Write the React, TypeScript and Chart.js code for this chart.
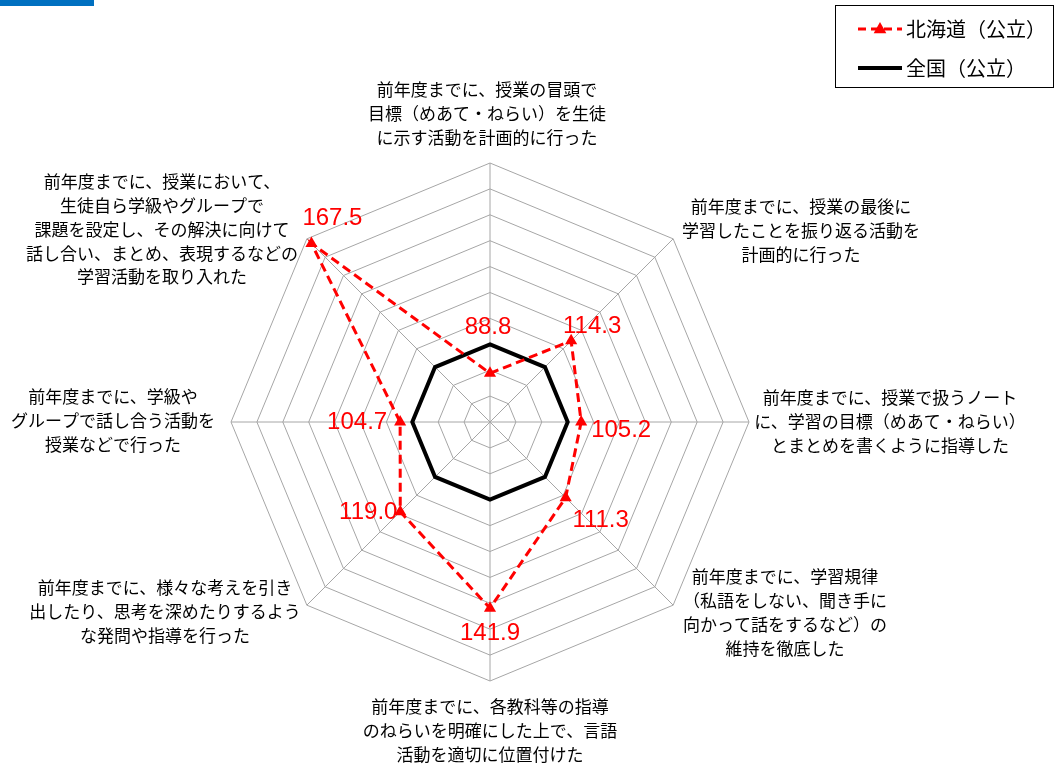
import React, { useEffect, useRef } from "react";
import { Chart, registerables } from "chart.js";

Chart.register(...registerables);

// ---------- data ----------
const categories: string[][] = [
  ["前年度までに、授業の冒頭で", "目標（めあて・ねらい）を生徒", "に示す活動を計画的に行った"],
  ["前年度までに、授業の最後に", "学習したことを振り返る活動を", "計画的に行った"],
  ["前年度までに、授業で扱うノート", "に、学習の目標（めあて・ねらい）", "とまとめを書くように指導した"],
  ["前年度までに、学習規律", "（私語をしない、聞き手に", "向かって話をするなど）の", "維持を徹底した"],
  ["前年度までに、各教科等の指導", "のねらいを明確にした上で、言語", "活動を適切に位置付けた"],
  ["前年度までに、様々な考えを引き", "出したり、思考を深めたりするよう", "な発問や指導を行った"],
  ["前年度までに、学級や", "グループで話し合う活動を", "授業などで行った"],
  [
    "前年度までに、授業において、",
    "生徒自ら学級やグループで",
    "課題を設定し、その解決に向けて",
    "話し合い、まとめ、表現するなどの",
    "学習活動を取り入れた",
  ],
];
const hokkaidoValues: number[] = [88.8, 114.3, 105.2, 111.3, 141.9, 119.0, 104.7, 167.5];
const nationalValues: number[] = [100, 100, 100, 100, 100, 100, 100, 100];
const seriesNames: string[] = ["北海道（公立）", "全国（公立）"];
const scaleMin = 70;
const scaleMax = 170;
const scaleStep = 10;

// ---------- layout (text placement relative to the radar centre / points) ----------
const LABEL_ANCHORS: [number, number][] = [
  [-3, -332],
  [311, -215],
  [400, -24],
  [295, 155],
  [0, 285],
  [-325, 166],
  [-377, -25],
  [-328, -240],
];
const LABEL_LINE_H = 23.7;
const VALUE_OFFSETS: [number, number][] = [
  [-2, -46],
  [21, -14],
  [40, 8],
  [35, 23],
  [0, 25],
  [-32, 1],
  [-43, 0],
  [21, -25],
];

const RED = "#FF0000";
const JP_FONT = '"Noto Sans CJK JP", "Noto Sans", sans-serif';

function drawTriangle(ctx: CanvasRenderingContext2D, x: number, y: number, r: number) {
  ctx.beginPath();
  ctx.moveTo(x, y - r);
  ctx.lineTo(x + r * 0.9, y + r * 0.6);
  ctx.lineTo(x - r * 0.9, y + r * 0.6);
  ctx.closePath();
  ctx.fill();
}

const textPlugin = {
  id: "customText",
  afterDraw(chart: any) {
    const ctx: CanvasRenderingContext2D = chart.ctx;
    const scale = chart.scales.r;
    const cx = scale.xCenter;
    const cy = scale.yCenter;
    ctx.save();

    // blue header bar
    ctx.fillStyle = "#0070C0";
    ctx.fillRect(0, 0, 94, 6);

    // category labels
    ctx.fillStyle = "#000000";
    ctx.font = `17px ${JP_FONT}`;
    ctx.textAlign = "center";
    ctx.textBaseline = "middle";
    categories.forEach((lines, i) => {
      const [dx, dy] = LABEL_ANCHORS[i];
      lines.forEach((line, j) => {
        ctx.fillText(line, cx + dx, cy + dy + j * LABEL_LINE_H);
      });
    });

    // value labels
    const meta = chart.getDatasetMeta(0);
    ctx.fillStyle = RED;
    ctx.font = '24px "Liberation Sans", Arial, sans-serif';
    meta.data.forEach((pt: any, i: number) => {
      const [ox, oy] = VALUE_OFFSETS[i];
      ctx.fillText(hokkaidoValues[i].toFixed(1), pt.x + ox, pt.y + oy);
    });

    // legend box
    ctx.strokeStyle = "#000000";
    ctx.lineWidth = 1;
    ctx.strokeRect(835.5, 5.5, 218, 82);
    // series 1
    ctx.strokeStyle = RED;
    ctx.lineWidth = 3;
    ctx.setLineDash([8, 5]);
    ctx.beginPath();
    ctx.moveTo(858, 29);
    ctx.lineTo(902, 29);
    ctx.stroke();
    ctx.setLineDash([]);
    ctx.fillStyle = RED;
    drawTriangle(ctx, 880, 29, 7);
    // series 2
    ctx.strokeStyle = "#000000";
    ctx.lineWidth = 4;
    ctx.beginPath();
    ctx.moveTo(858, 68);
    ctx.lineTo(902, 68);
    ctx.stroke();
    ctx.fillStyle = "#000000";
    ctx.font = `20px ${JP_FONT}`;
    ctx.textAlign = "left";
    ctx.fillText(seriesNames[0], 906, 29);
    ctx.fillText(seriesNames[1], 906, 68);

    ctx.restore();
  },
};

export default function App() {
  const canvasRef = useRef<HTMLCanvasElement | null>(null);

  useEffect(() => {
    if (!canvasRef.current) return;
    const chart = new Chart(canvasRef.current, {
      type: "radar",
      data: {
        labels: categories.map((c) => c.join("")),
        datasets: [
          {
            label: seriesNames[0],
            data: hokkaidoValues,
            borderColor: RED,
            backgroundColor: RED,
            borderWidth: 3,
            borderDash: [9, 5],
            fill: false,
            pointStyle: "triangle",
            pointRadius: 7,
            pointBackgroundColor: RED,
            pointBorderColor: RED,
            pointBorderWidth: 0,
            tension: 0,
          },
          {
            label: seriesNames[1],
            data: nationalValues,
            borderColor: "#000000",
            backgroundColor: "#000000",
            borderWidth: 4,
            fill: false,
            pointRadius: 0,
            tension: 0,
          },
        ],
      },
      options: {
        responsive: false,
        animation: false,
        layout: { padding: { left: 231, right: 306, top: 163, bottom: 86 } },
        plugins: {
          legend: { display: false },
          tooltip: { enabled: false },
          title: { display: false },
        },
        scales: {
          r: {
            min: scaleMin,
            max: scaleMax,
            ticks: { stepSize: scaleStep, display: false },
            grid: { color: "#a6a6a6", lineWidth: 1 },
            angleLines: { color: "#a6a6a6", lineWidth: 1 },
            pointLabels: { display: false },
          },
        },
      },
      plugins: [textPlugin],
    });
    return () => chart.destroy();
  }, []);

  return (
    <div style={{ position: "absolute", left: 0, top: 0, width: 1055, height: 767, background: "#fff" }}>
      <canvas ref={canvasRef} width={1055} height={767} style={{ width: 1055, height: 767 }} />
    </div>
  );
}
